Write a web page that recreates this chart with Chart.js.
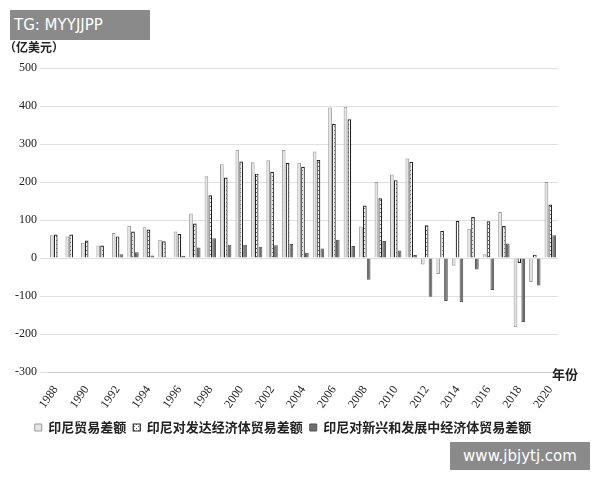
<!DOCTYPE html>
<html><head><meta charset="utf-8">
<script src="https://cdn.jsdelivr.net/npm/chart.js@4"></script>
<style>body{margin:0;background:#fff;font-family:"Noto Sans CJK SC",sans-serif}
#w{position:relative;width:600px;height:480px}
.t{position:absolute;font-size:13px;color:#222}
</style></head><body>
<div id="w"><canvas id="c" width="600" height="480"></canvas>
<div class="t" style="left:10px;top:10px;width:140px;height:30px;background:#8a8a8a;color:#fff;font-family:'DejaVu Sans';font-size:15px;line-height:30px;padding-left:4px;box-sizing:border-box">TG: MYYJJPP</div>
<div class="t" style="left:4px;top:38px;font-weight:bold;font-size:12px">（亿美元）</div>
<div class="t" style="left:552px;top:364px;font-weight:bold">年份</div>
<div class="t" style="left:450px;top:442px;width:140px;height:28px;background:#8a8a8a;color:#fff;font-family:'DejaVu Sans';font-size:15px;line-height:28px;text-align:center">www.jbjytj.com</div>
</div>
<script>
const years=[];for(let y=1988;y<=2020;y++)years.push(String(y));
const total=[60,57,40,33,66,85,81,48,70,117,215,247,285,252,257,284,251,280,396,398,83,200,220,262,-17,-42,-20,77,10,121,-182,-63,200];
const developed=[62,62,46,33,57,70,75,44,63,91,165,212,254,222,227,250,240,258,353,365,138,157,205,253,86,72,98,108,97,84,-13,9,141];
const emerging=[0,0,0,0,10,15,7,2,6,28,52,35,35,30,34,37,14,25,48,32,-57,45,20,8,-102,-113,-116,-30,-84,38,-168,-72,60];
const ctx=document.getElementById('c').getContext('2d');
const pc=document.createElement('canvas');pc.width=4;pc.height=4;const p=pc.getContext('2d');
p.fillStyle='#fff';p.fillRect(0,0,4,4);p.fillStyle='#666';p.fillRect(0,0,1,1);p.fillRect(2,2,1,1);
const pat=ctx.createPattern(pc,'repeat');
new Chart(ctx,{type:'bar',data:{labels:years,datasets:[
{label:'印尼贸易差额',data:total,backgroundColor:'#e4e4e4',borderColor:'#999',borderWidth:1},
{label:'印尼对发达经济体贸易差额',data:developed,backgroundColor:pat,borderColor:'#222',borderWidth:1.2},
{label:'印尼对新兴和发展中经济体贸易差额',data:emerging,backgroundColor:'#6e6e6e',borderColor:'#555',borderWidth:1}]},
options:{responsive:false,animation:false,
layout:{padding:{left:8,right:42,top:68,bottom:36}},
datasets:{bar:{categoryPercentage:0.75,barPercentage:0.95}},
plugins:{legend:{position:'bottom',labels:{boxWidth:7,boxHeight:7,color:'#222',font:{size:13,weight:'bold',family:'Noto Sans CJK SC'},padding:7}},tooltip:{enabled:false}},
scales:{x:{grid:{display:false},border:{color:'#ccc'},ticks:{autoSkip:false,maxRotation:55,minRotation:55,color:'#222',font:{size:12,family:'Liberation Serif'},callback:(v,i)=>i%2==0?years[i]:''}},
y:{min:-300,max:500,afterFit:s=>{s.width=40},ticks:{stepSize:100,color:'#222',font:{size:12,family:'Liberation Serif'}},grid:{color:'#e0e0e0'},border:{display:false}}}}});
</script></body></html>
